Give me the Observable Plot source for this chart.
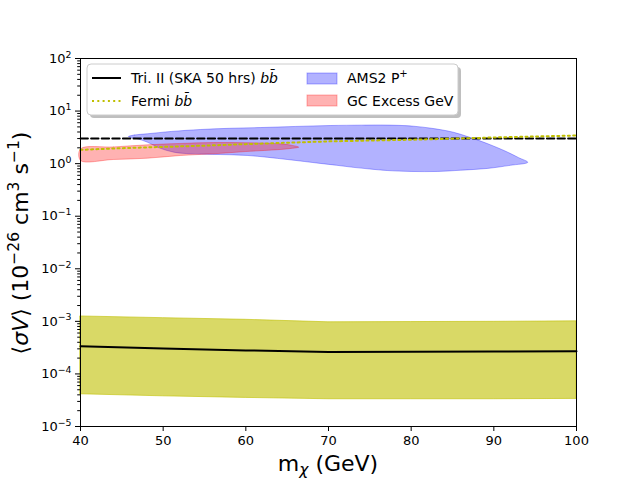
<!DOCTYPE html>
<html>
<head>
<meta charset="utf-8">
<script src="https://cdn.jsdelivr.net/npm/d3@7"></script>
<script src="https://cdn.jsdelivr.net/npm/@observablehq/plot@0.6"></script>
<style>
  html, body { margin: 0; padding: 0; background: white; }
  #chart { width: 640px; height: 480px; }
</style>
</head>
<body>
<div id="chart"></div>
<script>
// ---- data ----
const massGrid   = [40, 50, 60, 70, 80, 90, 100];
const skaLimit   = [3.35e-4, 3.05e-4, 2.8e-4, 2.62e-4, 2.64e-4, 2.66e-4, 2.7e-4];
const skaUpper   = [1.24e-3, 1.15e-3, 1.07e-3, 0.96e-3, 0.97e-3, 0.98e-3, 1.0e-3];
const skaLower   = [4.1e-5, 3.75e-5, 3.5e-5, 3.3e-5, 3.3e-5, 3.3e-5, 3.35e-5];

const fermiMass  = [40, 45, 50, 55, 60, 65, 70, 75, 80, 85, 90, 95, 100];
const fermiLimit = [1.83, 1.97, 2.08, 2.2, 2.35, 2.5, 2.65, 2.75, 2.85, 2.98, 3.15, 3.28, 3.43];

const thermalMass = [40, 100];
const thermalXsec = [3, 3];

const amsMass = [45.8, 46.5, 48.1, 51, 54.5, 58, 61.8, 66, 70.2, 74, 76.3, 78.5, 80.3, 82.5, 85.1, 87, 89.2, 91.5, 93, 94.1,
                 92, 89.2, 86, 83.2, 80, 77.1, 75, 73, 71, 69, 65, 60.2, 56, 53.3, 51.3, 49.5, 48.1, 46.8];
const amsXsec = [3.28, 3.5, 3.7, 4.1, 4.46, 4.7, 4.86, 5.1, 5.31, 5.4, 5.43, 5.35, 5.15, 4.7, 3.96, 3.2, 2.41, 1.7, 1.3, 1.06,
                 0.93, 0.81, 0.75, 0.71, 0.71, 0.74, 0.79, 0.85, 0.93, 1.01, 1.2, 1.43, 1.5, 1.54, 1.65, 2.0, 2.56, 3.0];

const gceMass = [40, 44, 48.1, 52, 56.1, 60, 64.2, 65.5, 66.4, 65.5, 64.2, 60, 56.1, 52.1, 48.1, 44, 40];
const gceXsec = [1.91, 2.08, 2.28, 2.42, 2.52, 2.5, 2.38, 2.24, 2.06, 1.95, 1.86, 1.7, 1.54, 1.43, 1.27, 1.2, 1.15];

const xTicks = [40, 50, 60, 70, 80, 90, 100];
const yTicks = [1e-5, 1e-4, 1e-3, 1e-2, 1e-1, 1e0, 1e1, 1e2];
const yMinorTicks = [];
for (let e = -5; e < 2; e++) for (let k = 2; k <= 9; k++) yMinorTicks.push(k * Math.pow(10, e));

// ---- tables ----
const ska = massGrid.map((m, i) => ({m, lim: skaLimit[i], lo: skaLower[i], hi: skaUpper[i]}));
const fermi = fermiMass.map((m, i) => ({m, v: fermiLimit[i]}));
const thermal = thermalMass.map((m, i) => ({m, v: thermalXsec[i]}));
const ams = amsMass.map((m, i) => ({m, v: amsXsec[i]}));
const gce = gceMass.map((m, i) => ({m, v: gceXsec[i]}));

const chart = Plot.plot({
  width: 640,
  height: 480,
  marginLeft: 80,
  marginRight: 64,
  marginTop: 58,
  marginBottom: 54,
  style: {fontFamily: "DejaVu Sans", fontSize: "13px", color: "black", background: "white"},
  x: {domain: [40, 100]},
  y: {type: "log", domain: [1e-5, 1e2]},
  marks: [
    Plot.areaY(ska, {x: "m", y1: "lo", y2: "hi", fill: "#bfbf00", fillOpacity: 0.6, stroke: "#bfbf00", strokeOpacity: 0.6, strokeWidth: 1}),
    Plot.line(ska, {x: "m", y: "lim", stroke: "black", strokeWidth: 2}),
    Plot.line(ams, {x: "m", y: "v", curve: "catmull-rom-closed", fill: "blue", fillOpacity: 0.3, stroke: "blue", strokeOpacity: 0.3, strokeWidth: 1}),
    Plot.line(gce, {x: "m", y: "v", curve: "catmull-rom-closed", fill: "red", fillOpacity: 0.3, stroke: "red", strokeOpacity: 0.3, strokeWidth: 1}),
    Plot.line(thermal, {x: "m", y: "v", stroke: "black", strokeWidth: 2, strokeDasharray: "7.4,3.2"}),
    Plot.line(fermi, {x: "m", y: "v", stroke: "#bfbf00", strokeWidth: 2, strokeDasharray: "2,3.3"}),
    Plot.axisX({ticks: xTicks, tickSize: 5, tickPadding: 4, fontSize: 13, label: null, tickFormat: d => String(d)}),
    Plot.axisY({ticks: yTicks, tickSize: 5, tickPadding: 4, fontSize: 13, label: null, tickFormat: d => String(Math.round(Math.log10(d)))}),
    Plot.axisY({ticks: yMinorTicks, tickSize: 2.8, label: null, tickFormat: () => ""}),
    Plot.frame({stroke: "black", strokeWidth: 1})
  ]
});

const svg = d3.select(chart);

// y tick labels as 10^e
svg.selectAll('g[aria-label="y-axis tick label"] text').each(function () {
  const t = d3.select(this);
  const e = t.text();
  if (e === "") return;
  t.text("10");
  t.append("tspan").attr("dy", "-0.55em").attr("font-size", "0.72em").text(e.replace("-", "\u2212"));
});

// x label
const xl = svg.append("text")
  .attr("x", 328).attr("y", 471)
  .attr("text-anchor", "middle")
  .attr("font-family", "DejaVu Sans").attr("font-size", 22).attr("fill", "black");
xl.append("tspan").text("m");
xl.append("tspan").attr("font-style", "italic").attr("font-size", 15.5).attr("dy", 4).text("\u03c7");
xl.append("tspan").attr("dy", -4).text(" (GeV)");

// y label
const yl = svg.append("text")
  .attr("transform", "translate(28,243) rotate(-90)")
  .attr("text-anchor", "middle")
  .attr("font-family", "DejaVu Sans").attr("font-size", 22).attr("fill", "black");
yl.append("tspan").text("\u27e8");
yl.append("tspan").attr("font-style", "italic").text("\u03c3V");
yl.append("tspan").text("\u27e9 (10");
yl.append("tspan").attr("font-size", 15.5).attr("dy", -9).text("\u221226");
yl.append("tspan").attr("dy", 9).text(" cm");
yl.append("tspan").attr("font-size", 15.5).attr("dy", -9).text("3");
yl.append("tspan").attr("dy", 9).text(" s");
yl.append("tspan").attr("font-size", 15.5).attr("dy", -9).text("\u22121");
yl.append("tspan").attr("dy", 9).text(")");

// legend
const lg = svg.append("g").attr("font-family", "DejaVu Sans").attr("font-size", 14).attr("text-anchor", "start").attr("fill", "black");
lg.append("rect").attr("x", 90).attr("y", 67).attr("width", 371).attr("height", 51).attr("rx", 4)
  .attr("fill", "#808080").attr("fill-opacity", 0.5);
lg.append("rect").attr("x", 87).attr("y", 64).attr("width", 371).attr("height", 51).attr("rx", 4)
  .attr("fill", "white").attr("stroke", "#cccccc").attr("stroke-width", 1);
lg.append("line").attr("x1", 92).attr("x2", 121).attr("y1", 78).attr("y2", 78).attr("stroke", "black").attr("stroke-width", 2);
lg.append("line").attr("x1", 92).attr("x2", 121).attr("y1", 101).attr("y2", 101).attr("stroke", "#bfbf00").attr("stroke-width", 2).attr("stroke-dasharray", "2,3.3");
const t1 = lg.append("text").attr("x", 131).attr("y", 83).attr("text-anchor", "start");
t1.append("tspan").text("Tri. II (SKA 50 hrs) ");
t1.append("tspan").attr("font-style", "italic").text("b\u0062\u0304");
const t2 = lg.append("text").attr("x", 131).attr("y", 106).attr("text-anchor", "start");
t2.append("tspan").text("Fermi ");
t2.append("tspan").attr("font-style", "italic").text("b\u0062\u0304");
lg.append("rect").attr("x", 307).attr("y", 73).attr("width", 30).attr("height", 11)
  .attr("fill", "blue").attr("fill-opacity", 0.3).attr("stroke", "blue").attr("stroke-opacity", 0.3);
lg.append("rect").attr("x", 307).attr("y", 95).attr("width", 30).attr("height", 11)
  .attr("fill", "red").attr("fill-opacity", 0.3).attr("stroke", "red").attr("stroke-opacity", 0.3);
const t3 = lg.append("text").attr("x", 347).attr("y", 83).attr("text-anchor", "start");
t3.append("tspan").text("AMS2 P");
t3.append("tspan").attr("font-size", 10).attr("dy", -6).text("+");
lg.append("text").attr("x", 347).attr("y", 106).attr("text-anchor", "start").text("GC Excess GeV");

document.getElementById("chart").appendChild(chart);
</script>
</body>
</html>
